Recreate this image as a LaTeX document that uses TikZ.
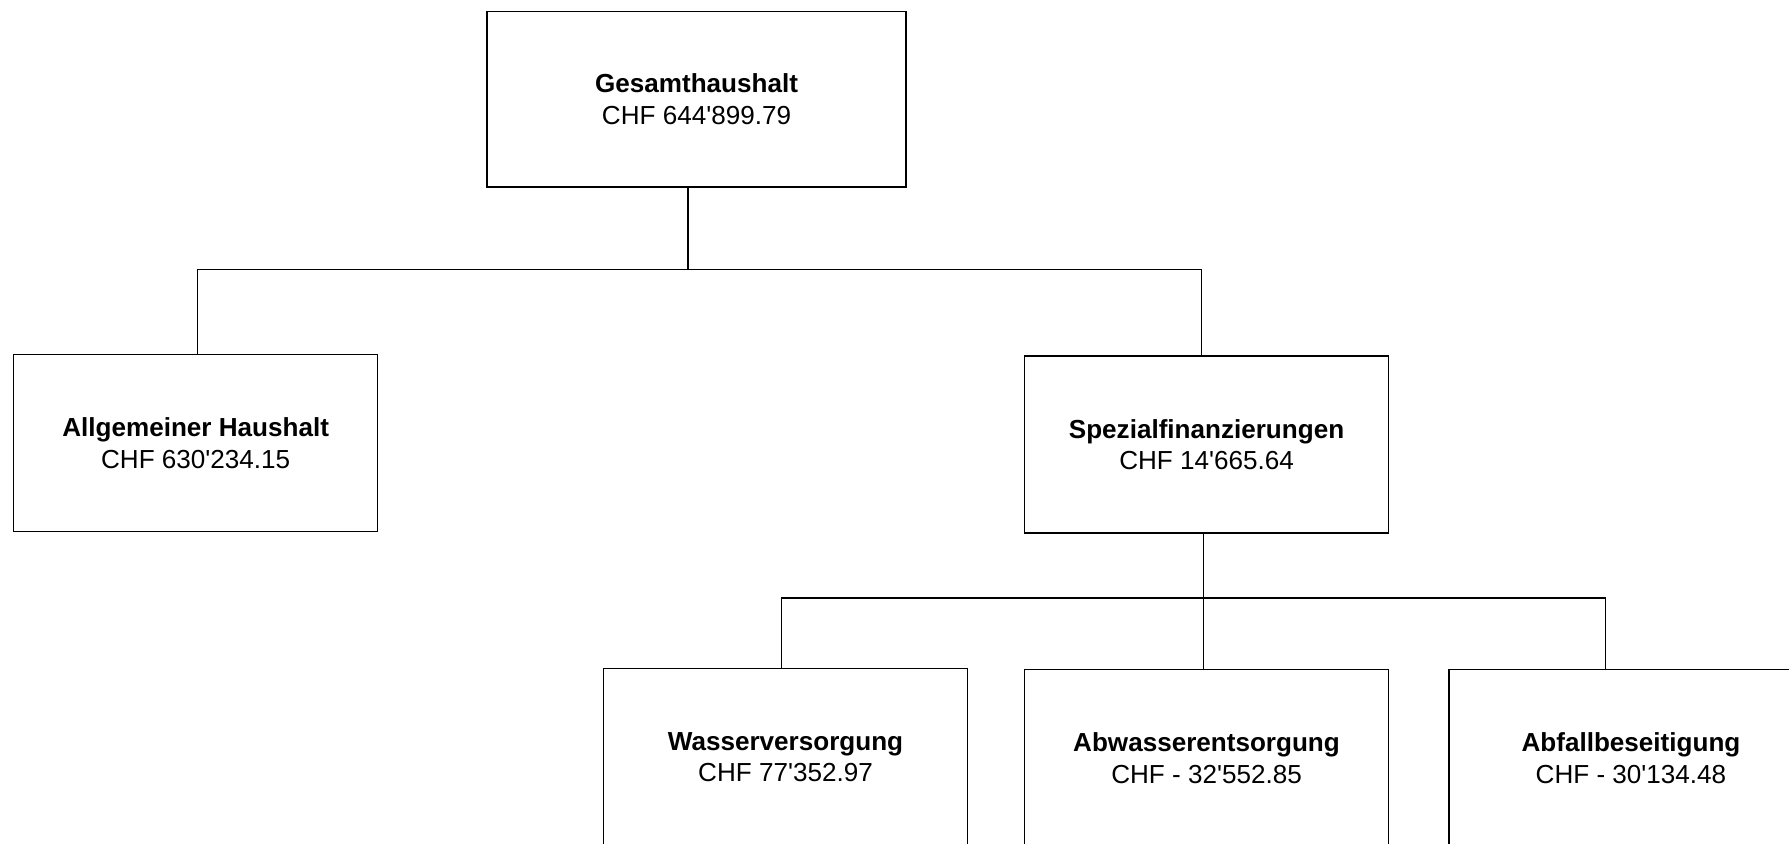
\documentclass[tikz,border=0pt]{standalone}
\usepackage{fontspec}
\setmainfont{Liberation Sans}
\newcommand{\betrag}[2]{CHF #1\textquotesingle #2}
\begin{document}
\begin{tikzpicture}[x=0.01cm, y=-0.01cm,
  box/.style={draw, line width=0.35pt, minimum width=3.19cm, minimum height=1.55cm, inner sep=0pt,
    align=center, font=\fontsize{6.5}{7.8}\selectfont},
  line/.style={line width=0.35pt}]
\useasboundingbox (0,0) rectangle (1568,739);
\clip (0,0) rectangle (1568,739);

\node[box, minimum width=3.67cm, minimum height=1.54cm] (g) at (610.5,87) {\textbf{Gesamthaushalt}\\\betrag{644}{899.79}};
\node[box] (a) at (171.5,388.5) {\textbf{Allgemeiner Haushalt}\\\betrag{630}{234.15}};
\node[box] (s) at (1057.5,389.5) {\textbf{Spezialfinanzierungen}\\\betrag{14}{665.64}};
\node[box] (w) at (688.5,663.5) {\textbf{Wasserversorgung}\\\betrag{77}{352.97}};
\node[box] (ab) at (1057.5,664.5) {\textbf{Abwasserentsorgung}\\\betrag{- 32}{552.85}};
\node[box] (af) at (1429.5,664.5) {\textbf{Abfallbeseitigung}\\\betrag{- 30}{134.48}};

% first level
\coordinate (ga) at (173,236);
\coordinate (gm) at (603,236);
\coordinate (gs) at (1053,236);
\draw[line] (gm |- g.south)--(gm);
\draw[line] (ga |- a.north)--(ga)--(gs)--(gs |- s.north);

% second level
\coordinate (sw) at (685,524);
\coordinate (sm) at (1055,524);
\coordinate (sf) at (1407,524);
\draw[line] (sm |- s.south)--(sm)--(sm |- ab.north);
\draw[line] (sw |- w.north)--(sw)--(sf)--(sf |- af.north);

\end{tikzpicture}
\end{document}
